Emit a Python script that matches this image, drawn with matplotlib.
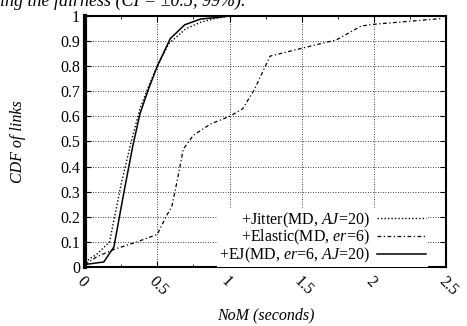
import matplotlib
matplotlib.use("Agg")
import matplotlib.pyplot as plt
from matplotlib.ticker import MultipleLocator

plt.rcParams['font.family'] = ['Liberation Serif', 'DejaVu Serif']
plt.rcParams['mathtext.fontset'] = 'custom'
plt.rcParams['mathtext.it'] = 'Liberation Serif:italic'
plt.rcParams['mathtext.rm'] = 'Liberation Serif'

# +Jitter(MD, AJ=20)
jit_x = [0.0, 0.08, 0.17, 0.25, 0.32, 0.38, 0.44, 0.5, 0.58, 0.7, 0.8, 0.9, 1.0, 2.5]
jit_y = [0.02, 0.05, 0.1, 0.33, 0.5, 0.63, 0.72, 0.8, 0.89, 0.95, 0.975, 0.99, 1.0, 1.0]

# +Elastic(MD, er=6)
ela_x = [0.0, 0.08, 0.2, 0.36, 0.5, 0.56, 0.6, 0.64, 0.68, 0.75, 0.87, 1.0, 1.09,
         1.17, 1.28, 1.49, 1.74, 1.91, 2.0, 2.47]
ela_y = [0.01, 0.04, 0.07, 0.1, 0.13, 0.2, 0.24, 0.35, 0.47, 0.525, 0.57, 0.6, 0.63,
         0.705, 0.84, 0.87, 0.905, 0.96, 0.967, 0.99]

# +EJ(MD, er=6, AJ=20)
ej_x = [0.0, 0.13, 0.2, 0.27, 0.33, 0.38, 0.44, 0.5, 0.59, 0.69, 0.8, 0.93, 1.0, 2.5]
ej_y = [0.01, 0.02, 0.08, 0.3, 0.48, 0.61, 0.71, 0.8, 0.91, 0.965, 0.988, 0.995, 1.0, 1.0]

xticks = [0, 0.5, 1, 1.5, 2, 2.5]
xtick_labels = ["0", "0.5", "1", "1.5", "2", "2.5"]
yticks = [0, 0.1, 0.2, 0.3, 0.4, 0.5, 0.6, 0.7, 0.8, 0.9, 1]
ytick_labels = ["0", "0.1", "0.2", "0.3", "0.4", "0.5", "0.6", "0.7", "0.8", "0.9", "1"]

fig = plt.figure(figsize=(4.67, 3.26), dpi=100)
ax = fig.add_axes([0.182, 0.181, 0.774, 0.77])

ax.plot(jit_x, jit_y, color='black', lw=1.0, ls=(0, (1, 1.5)),
        label=r'+Jitter(MD, $AJ$=20)')
ax.plot(ela_x, ela_y, color='black', lw=0.9, ls=(0, (3, 2, 1, 2)),
        label=r'+Elastic(MD, $er$=6)')
ax.plot(ej_x, ej_y, color='black', lw=1.1, ls='-',
        label=r'+EJ(MD, $er$=6, $AJ$=20)')

ax.set_xlim(0, 2.5)
ax.set_ylim(0, 1)
ax.set_xticks(xticks)
ax.set_xticklabels(xtick_labels, rotation=-45, ha='left', va='top',
                   rotation_mode='anchor')
ax.xaxis.set_minor_locator(MultipleLocator(0.25))
ax.set_yticks(yticks)
ax.set_yticklabels(ytick_labels)
ax.tick_params(direction='in', labelsize=11.5, top=True, right=True, length=4)
ax.tick_params(which='minor', direction='in', top=True, length=2)
ax.tick_params(axis='x', pad=5)
ax.grid(True, color='black', ls=(0, (1, 2)), lw=0.6)

ax.spines['left'].set_linewidth(3)
ax.spines['bottom'].set_linewidth(1.5)
ax.spines['top'].set_linewidth(1.5)
ax.spines['right'].set_linewidth(1.5)

ax.set_xlabel('NoM (seconds)', style='italic', fontsize=11.5, labelpad=6)
ax.set_ylabel('CDF of links', style='italic', fontsize=11.5, labelpad=25)

leg = ax.legend(loc='lower right', bbox_to_anchor=(0.949, 0.0), frameon=True,
                fontsize=11.5, markerfirst=False, handlelength=3.1,
                borderaxespad=0.0, labelspacing=-0.08, handletextpad=0.45,
                fancybox=False, borderpad=0.1)
leg.get_frame().set_edgecolor('none')
leg.get_frame().set_facecolor('white')
leg.get_frame().set_alpha(1)
for t in leg.get_texts():
    t.set_ha('right')
leg._legend_box.align = 'right'

fig.text(0.0, 1 - 6 / 326, 'ing the fairness (CI = \u00b10.5, 99%).',
         style='italic', fontsize=13, ha='left', va='baseline')

fig.savefig('out.png', dpi=100)
